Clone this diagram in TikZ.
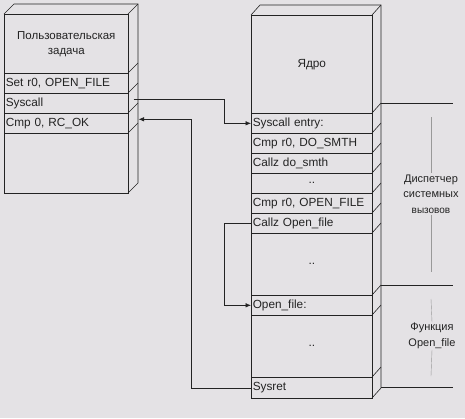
\documentclass[tikz,border=0pt]{standalone}
\usepackage{fontspec}
\setmainfont{Liberation Sans}
\usetikzlibrary{arrows.meta}
\definecolor{paper}{RGB}{228,226,229}
\definecolor{ink}{RGB}{35,35,35}
\begin{document}
\begin{tikzpicture}[
  x=1pt, y=-1pt,
  every node/.style={font=\fontsize{11.8}{14}\selectfont, text=ink},
  frame/.style={draw=ink, line width=0.6pt},
  lrow/.style={frame, anchor=north west, text width=121pt, minimum height=20pt,
    inner xsep=1.5pt, inner ysep=0pt, align=left},
  krow/.style={lrow, text width=118pt},
  dots/.style={krow, align=center},
  link/.style={frame, -{Latex[length=5.5pt,width=4.5pt]}},
  note/.style={font=\fontsize{11}{15.5}\selectfont, align=center, inner sep=1pt},
  guide/.style={draw=gray!80, line width=0.4pt}
]

% Background
\fill[paper] (0,0) rectangle (465,418);
\useasboundingbox (0,0) rectangle (465,418);

% User task box
\draw[frame] (4,14) -- (14,4) -- (138,4) -- (138,183) -- (128,193);
\draw[frame] (128,14) -- (138,4);
\node[lrow, minimum height=59pt, align=center, font=\fontsize{11.5}{15}\selectfont] (task) at (4,14) {Пользовательская\\задача};
\node[lrow] (set) at (4,73) {Set r0, OPEN\_FILE};
\node[lrow] (sys) at (4,93) {Syscall};
\node[lrow] (cmp) at (4,113) {Cmp 0, RC\_OK};
\node[lrow, minimum height=60pt] (rest) at (4,133) {};
\foreach \y in {73,93,113,133}
  \draw[frame] (128,\y) -- ++(10,-10);

% Kernel box
\draw[frame] (251,15) -- (260,5) -- (381,5) -- (381,388) -- (372,398);
\draw[frame] (372,15) -- (381,5);
\node[krow, minimum height=98pt, align=center] (kernel) at (251,15) {Ядро};
\node[krow] (entry) at (251,113) {Syscall entry:};
\node[krow] (cmpsmth) at (251,133) {Cmp r0, DO\_SMTH};
\node[krow] (callsmth) at (251,153) {Callz do\_smth};
\node[dots] (dotsa) at (251,173) {..};
\node[krow] (cmpopen) at (251,193) {Cmp r0, OPEN\_FILE};
\node[krow] (callopen) at (251,213) {Callz Open\_file};
\node[dots, minimum height=62pt] (dotsb) at (251,233) {..};
\node[krow] (openf) at (251,295) {Open\_file:};
\node[dots, minimum height=62pt] (dotsc) at (251,315) {..};
\node[krow, minimum height=21pt] (sysret) at (251,377) {Sysret};
\foreach \y in {113,133,153,173,193,213,233,295,315,377}
  \draw[frame] (372,\y) -- ++(9,-10);

% Extension lines on the right
\coordinate (d1) at (381,103);
\coordinate (d2) at (381,285);
\coordinate (d3) at (381,387);
\foreach \c in {d1,d2,d3}
  \draw[frame] (\c) -- ++(72,0);

% Labels with guides
\node[note] (disp) at (431,194) {Диспетчер\\системных\\{\fontsize{10}{12}\selectfont вызовов}};
\draw[guide] (431,117) -- (disp.north);
\draw[guide] (disp.south) -- (431,272);
\node[note] (func) at (432,336) {Функция\\Open\_file};
\draw[guide] (431,299) -- (func.north);
\draw[guide] (func.south) -- (431,376);

% Calls and returns
\draw[link] ([xshift=5pt,yshift=4pt]sys.east) -- ++(91,0) |- (entry.west);
\draw[link] (callopen.west) -- ++(-27,0) |- (openf.west);
\draw[link] (sysret.west) -- ++(-60,0) |- ([xshift=10pt,yshift=4pt]cmp.east);

\end{tikzpicture}
\end{document}
